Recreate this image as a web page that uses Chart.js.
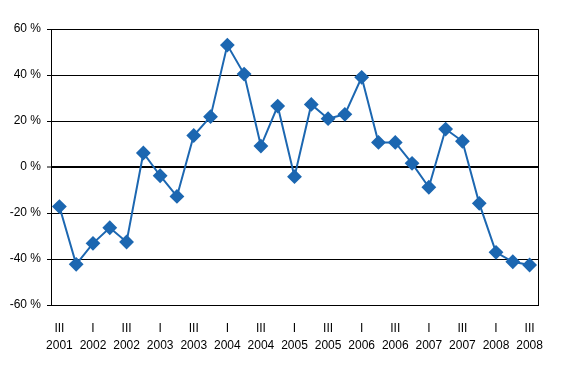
<!DOCTYPE html>
<html>
<head>
<meta charset="utf-8">
<script src="https://cdn.jsdelivr.net/npm/chart.js@4/dist/chart.umd.min.js"></script>
<style>
  html, body { margin: 0; padding: 0; background: #fff; }
  #wrap { width: 567px; height: 370px; }
</style>
</head>
<body>
<div id="wrap"><canvas id="chart"></canvas></div>
<script>
// Quartale III/2001 bis III/2008
const quarters = ["III","IV","I","II","III","IV","I","II","III","IV","I","II","III","IV","I","II","III","IV","I","II","III","IV","I","II","III","IV","I","II","III"];
const years = ["2001","2001","2002","2002","2002","2002","2003","2003","2003","2003","2004","2004","2004","2004","2005","2005","2005","2005","2006","2006","2006","2006","2007","2007","2007","2007","2008","2008","2008"];
const changePct = [-17.2, -42.3, -33.2, -26.4, -32.6, 6.1, -3.8, -12.8, 13.7, 21.9, 53, 40.4, 9.1, 26.5, -4.2, 27.2, 21, 22.9, 39, 10.7, 10.7, 1.6, -8.8, 16.5, 11.2, -15.8, -37.1, -41.2, -42.6];
const yTicks = [-60, -40, -20, 0, 20, 40, 60];

const labels = quarters.map((q, i) => [q, years[i]]);

// Rechter Rahmen der Zeichenfläche
const frameRight = {
  id: "frameRight",
  afterDraw(chart) {
    const { ctx, chartArea } = chart;
    ctx.save();
    ctx.strokeStyle = "#000";
    ctx.lineWidth = 1;
    ctx.beginPath();
    ctx.moveTo(Math.round(chartArea.right) + 0.5, chartArea.top);
    ctx.lineTo(Math.round(chartArea.right) + 0.5, chartArea.bottom);
    ctx.stroke();
    ctx.restore();
  },
};

new Chart(document.getElementById("chart"), {
  type: "line",
  data: {
    labels,
    datasets: [
      {
        data: changePct,
        borderColor: "#1c67b1",
        backgroundColor: "#1c67b1",
        borderWidth: 2,
        pointStyle: "rectRot",
        pointRadius: 6,
        pointHoverRadius: 6,
        tension: 0,
      },
    ],
  },
  options: {
    responsive: true,
    maintainAspectRatio: false,
    animation: false,
    layout: { padding: { left: 0, right: 29, top: 29, bottom: 0 } },
    plugins: { legend: { display: false }, tooltip: { enabled: false } },
    scales: {
      x: {
        offset: true,
        grid: { display: false },
        border: { color: "#000", width: 1 },
        ticks: {
          autoSkip: false,
          maxRotation: 0,
          padding: 7,
          color: "#000",
          font: { family: "Liberation Sans, Arial, sans-serif", size: 12, lineHeight: 1.4 },
          callback: (v, i) => (i % 2 === 0 ? labels[i] : ""),
        },
        afterFit: (scale) => { scale.height = 65; },
      },
      y: {
        min: -60,
        max: 60,
        afterBuildTicks: (scale) => { scale.ticks = yTicks.map((v) => ({ value: v })); },
        grid: {
          color: "#000",
          lineWidth: (c) => (c.tick && c.tick.value === 0 ? 2 : 1),
          tickLength: 4,
          tickColor: "#000",
          tickWidth: 1,
        },
        border: { color: "#000", width: 1 },
        ticks: {
          padding: 6,
          color: "#000",
          font: { family: "Liberation Sans, Arial, sans-serif", size: 12 },
          callback: (v) => v + " %",
        },
        afterFit: (scale) => { scale.width = 51; },
      },
    },
  },
  plugins: [frameRight],
});
</script>
</body>
</html>
